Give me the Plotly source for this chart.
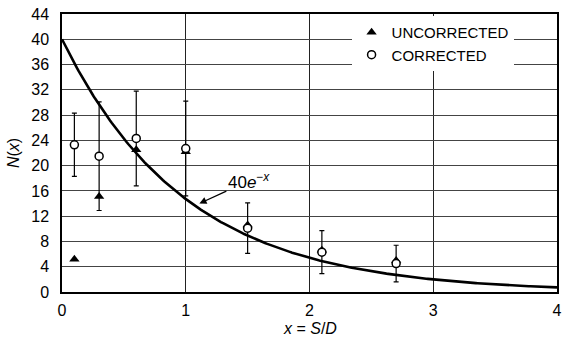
import numpy as np
import plotly.graph_objects as go

# Measured counts at each separation x = S/D
x_pos = [0.1, 0.3, 0.6, 1.0, 1.5, 2.1, 2.7]
uncorrected = [5.2, 15.1, 22.5, 22.2, 10.6, 6.6, 5.0]
corrected = [23.3, 21.5, 24.3, 22.7, 10.1, 6.3, 4.5]
corrected_err = [5.0, 8.6, 7.5, 7.5, 4.0, 3.4, 2.9]

# Model curve N(x) = A e^{-x}
amplitude = 40
x_curve = np.linspace(0, 4, 300)
y_curve = amplitude * np.exp(-x_curve)

y_ticks = list(range(0, 45, 4))
x_ticks = [0, 1, 2, 3, 4]

FONT = "Liberation Sans, Arial, sans-serif"

fig = go.Figure()

fig.add_trace(go.Scatter(
    x=x_curve, y=y_curve, mode="lines",
    line=dict(color="black", width=2.6),
    showlegend=False, hoverinfo="skip",
))

fig.add_trace(go.Scatter(
    x=x_pos, y=uncorrected, mode="markers", name="UNCORRECTED",
    marker=dict(symbol="triangle-up", size=9, color="black"),
))

fig.add_trace(go.Scatter(
    x=x_pos, y=corrected, mode="markers", name="CORRECTED",
    marker=dict(symbol="circle", size=8, color="white",
                line=dict(color="black", width=1.5)),
    error_y=dict(type="data", array=corrected_err, visible=True,
                 color="black", thickness=1.2, width=2.5),
))

# Label for the model curve, with an arrow pointing onto it
fig.add_annotation(
    x=1.11, y=14.0, xref="x", yref="y",
    ax=1.51, ay=17.6, axref="x", ayref="y",
    text="40<i>e</i><sup>−<i>x</i></sup>", showarrow=True,
    arrowhead=2, arrowsize=1.1, arrowwidth=1.3, arrowcolor="black",
    font=dict(family=FONT, size=17, color="black"),
)

# x-axis title placed just under the tick labels
fig.add_annotation(
    x=0.5, y=-0.132, xref="paper", yref="paper",
    xanchor="center", yanchor="middle", showarrow=False,
    text="<i>x</i> = <i>S</i>/<i>D</i>",
    font=dict(family=FONT, size=16, color="black"),
)

fig.update_layout(
    width=563, height=345,
    margin=dict(l=62, r=1, t=14, b=53),
    paper_bgcolor="white", plot_bgcolor="white",
    font=dict(family=FONT, size=16, color="black"),
    legend=dict(
        x=0.585, y=0.993, xanchor="left", yanchor="top",
        bgcolor="white", borderwidth=0,
        font=dict(family=FONT, size=15, color="black"),
        tracegroupgap=0, itemwidth=30,
    ),
)

fig.update_xaxes(
    range=[0, 4], tickvals=x_ticks, ticktext=[str(v) for v in x_ticks],
    showgrid=True, gridcolor="#222", gridwidth=1.3,
    showline=True, linecolor="black", linewidth=1.5, mirror=True,
    ticks="", ticklabelstandoff=3, zeroline=False,
    ticklabeloverflow="allow",
    tickfont=dict(family=FONT, size=16),
)
fig.update_yaxes(
    range=[0, 44], tickvals=y_ticks, ticktext=[str(v) for v in y_ticks],
    showgrid=True, gridcolor="#444", gridwidth=1,
    showline=True, linecolor="black", linewidth=1.5, mirror=True,
    ticks="", ticklabelstandoff=8, zeroline=False,
    title=dict(text="<i>N</i>(<i>x</i>)", standoff=8,
               font=dict(family=FONT, size=16)),
    tickfont=dict(family=FONT, size=16),
)

fig.write_html("out.html")
